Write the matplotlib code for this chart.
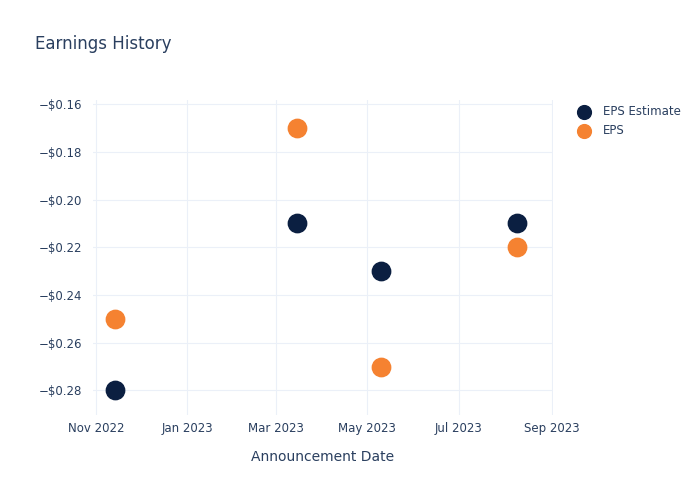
import matplotlib.pyplot as plt
import matplotlib.dates as mdates
import numpy as np
from datetime import datetime

dates = ["2022-11-14", "2023-03-15", "2023-05-10", "2023-08-09"]
eps_estimate = [-0.28, -0.21, -0.23, -0.21]
eps_actual = [-0.25, -0.17, -0.27, -0.22]

x = [datetime.strptime(d, "%Y-%m-%d") for d in dates]

text_color = "#2a3f5f"
grid_color = "#ebf0f8"

fig = plt.figure(figsize=(7, 5), dpi=100)
ax = fig.add_axes([93 / 700, 85 / 500, 460 / 700, 315 / 500])

ax.scatter(x, eps_estimate, s=175, color="#0b1f41", label="EPS Estimate", zorder=3)
ax.scatter(x, eps_actual, s=175, color="#f58231", label="EPS", zorder=3)

ax.set_xlim(datetime(2022, 10, 30), datetime(2023, 9, 2))
ax.set_ylim(-0.2903, -0.1583)

ax.xaxis.set_major_locator(mdates.MonthLocator(bymonth=[1, 3, 5, 7, 9, 11]))
ax.xaxis.set_major_formatter(mdates.DateFormatter("%b %Y"))
ax.set_yticks(np.arange(-0.28, -0.159, 0.02))
ax.yaxis.set_major_formatter(plt.FuncFormatter(lambda v, p: "\u2212$%.2f" % abs(v)))

for s in ax.spines.values():
    s.set_visible(False)
ax.grid(True, color=grid_color, linewidth=0.8)
ax.set_axisbelow(True)
ax.tick_params(axis="y", length=0, colors=text_color, labelsize=8.5, pad=8)
ax.tick_params(axis="x", length=0, colors=text_color, labelsize=8.5, pad=5)

ax.set_xlabel("Announcement Date", color=text_color, fontsize=10, labelpad=11)

fig.text(35 / 700, 1 - 44 / 500, "Earnings History", color=text_color, fontsize=12, va="center")

leg = ax.legend(loc="upper left", bbox_to_anchor=(1.018, 1.018), frameon=False,
                fontsize=8.5, labelcolor=text_color, handletextpad=0.6,
                labelspacing=0.55, markerscale=0.75)

plt.savefig("out.png", dpi=100)
